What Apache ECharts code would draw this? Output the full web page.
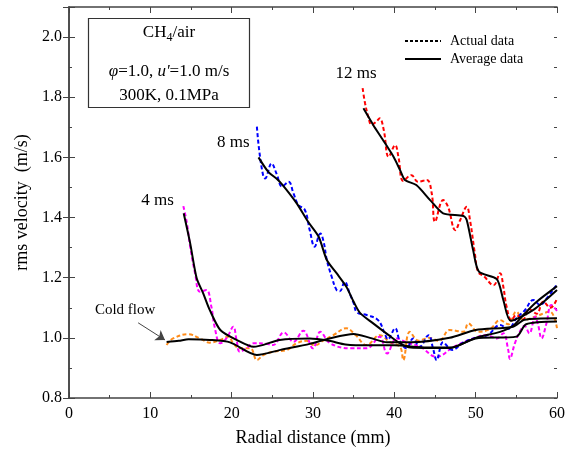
<!DOCTYPE html>
<html>
<head>
<meta charset="utf-8">
<script src="https://cdn.jsdelivr.net/npm/echarts@6/dist/echarts.min.js"></script>
<style>
  html, body { margin: 0; padding: 0; background: #fff; }
  #chart { width: 572px; height: 456px; }
</style>
</head>
<body>
<div id="chart"></div>
<script>
// x: radial distance (mm), y: rms velocity (m/s)
const coldActual = [[12.0,0.976],[12.8,0.998],[14.7,1.012],[16.1,0.998],[17.3,0.984],[18.6,0.993],[19.6,1.004],[20.2,0.982],[21.0,0.965],[22.3,0.965],[23.1,0.926],[23.9,0.943],[25.1,0.954],[26.8,0.96],[28.0,0.982],[29.2,0.99],[30.2,0.975],[31.2,0.99],[32.5,1.009],[34.1,1.032],[35.2,1.01],[36.6,0.976],[38.2,1.009],[39.5,0.985],[40.7,0.97],[41.1,0.926],[41.9,1.02],[43.0,0.99],[44.2,1.0],[45.5,0.99],[46.8,1.026],[48.5,1.02],[49.1,1.048],[50.3,1.02],[51.8,1.03],[53.0,1.059],[54.0,1.045],[55.0,1.087],[55.9,1.06],[57.3,1.07],[59.1,1.087],[60.0,1.032]]
const coldAvg = [[12.0,0.986],[13.5,0.99],[14.7,0.995],[17.3,0.993],[19.8,0.985],[23.1,0.943],[26.0,0.96],[29.6,0.98],[32.0,0.998],[35.0,1.013],[37.0,1.0],[39.1,0.985],[42.0,0.985],[46.8,1.0],[50.0,1.026],[54.6,1.037],[56.0,1.06],[60.0,1.065]]

const ms4Actual = [[14.06,1.438],[14.5,1.381],[14.9,1.303],[15.5,1.215],[16.1,1.153],[16.9,1.159],[17.5,1.104],[17.9,1.037],[18.6,0.982],[19.4,1.0],[20.2,1.037],[20.6,0.993],[21.0,0.954],[21.8,0.965],[22.7,0.982],[24.3,0.98],[25.1,0.976],[26.4,1.018],[27.6,0.987],[28.8,1.024],[30.0,0.965],[30.9,1.02],[32.1,0.982],[34.6,0.965],[36.6,0.965],[38.2,1.004],[39.1,0.948],[40.3,0.998],[41.5,0.985],[43.2,0.97],[45.2,0.937],[47.3,0.97],[49.7,0.998],[51.4,1.009],[52.6,0.998],[53.4,1.015],[54.0,0.96],[54.2,0.93],[54.8,0.98],[55.4,1.02],[56.0,1.04],[56.6,1.015],[57.3,1.07],[57.7,1.04],[58.1,0.998],[58.7,1.048],[59.3,1.109],[60.0,1.09]]
const ms4Avg = [[14.1,1.414],[14.9,1.314],[15.7,1.198],[16.5,1.148],[17.3,1.093],[18.6,1.026],[20.6,0.993],[22.7,0.97],[25.9,0.993],[29.6,0.998],[32.0,0.99],[34.0,0.978],[37.0,0.975],[40.0,0.975],[44.0,0.968],[47.0,0.968],[50.0,0.998],[55.0,1.004],[56.2,1.045],[60.0,1.054]]

const ms8Actual = [[23.1,1.702],[23.4,1.62],[23.9,1.536],[24.1,1.53],[24.9,1.58],[25.5,1.547],[26.2,1.503],[27.0,1.519],[27.6,1.48],[28.2,1.442],[29.0,1.425],[29.6,1.358],[30.2,1.303],[30.9,1.347],[31.3,1.32],[31.7,1.259],[32.3,1.203],[32.9,1.159],[33.3,1.155],[33.9,1.187],[34.5,1.148],[35.0,1.115],[35.4,1.085],[36.6,1.076],[38.0,1.059],[38.9,1.009],[39.2,0.995],[40.1,1.032],[40.7,0.987],[41.5,0.965],[42.3,0.998],[43.1,0.97],[44.2,1.009],[44.8,0.96],[45.2,0.926],[46.0,0.985],[47.1,0.96],[48.5,0.985],[50.0,1.0],[51.5,1.01],[53.0,1.043],[54.0,1.03],[55.0,1.065],[56.0,1.09],[57.1,1.126],[57.9,1.11],[58.9,1.137],[59.8,1.17],[60.0,1.175]]
const ms8Avg = [[23.3,1.60],[24.5,1.552],[25.7,1.525],[26.6,1.497],[28.0,1.447],[29.4,1.386],[30.7,1.336],[31.7,1.259],[32.9,1.215],[34.1,1.17],[35.0,1.12],[35.8,1.082],[37.4,1.048],[39.3,1.009],[40.7,0.982],[42.0,0.968],[46.8,0.966],[50.0,1.0],[53.0,1.02],[54.6,1.04],[56.0,1.08],[57.5,1.12],[60.0,1.172]]

const ms12Actual = [[36.1,1.83],[36.4,1.78],[36.8,1.735],[37.2,1.708],[37.8,1.719],[38.2,1.73],[38.7,1.691],[39.3,1.602],[40.1,1.641],[40.5,1.602],[41.1,1.522],[42.1,1.541],[42.9,1.519],[44.0,1.525],[44.6,1.48],[45.0,1.386],[46.0,1.458],[46.6,1.436],[47.5,1.358],[48.1,1.392],[48.9,1.436],[49.3,1.392],[49.9,1.281],[50.3,1.22],[51.0,1.205],[52.2,1.175],[53.0,1.215],[53.4,1.17],[53.8,1.104],[54.4,1.059],[55.0,1.076],[55.8,1.06],[56.6,1.095],[57.5,1.08],[58.3,1.12],[59.2,1.1],[60.0,1.13]]
const ms12Avg = [[36.2,1.763],[37.4,1.708],[38.6,1.658],[39.9,1.602],[40.7,1.558],[41.3,1.525],[42.7,1.508],[44.4,1.458],[46.0,1.414],[48.5,1.405],[48.9,1.392],[49.7,1.29],[50.4,1.22],[52.6,1.195],[53.4,1.126],[54.3,1.057],[57.1,1.093],[60.0,1.159]]

// text labels placed in data coordinates
const curveLabels = [
  { text: '4 ms', at: [10.9, 1.455] },
  { text: '8 ms', at: [20.2, 1.648] },
  { text: '12 ms', at: [35.3, 1.88] },
  { text: 'Cold flow', at: [6.9, 1.093] }
]
const arrowFrom = [8.5, 1.05]
const arrowTo = [11.8, 0.993]

const serif = '"Liberation Serif", "Times New Roman", serif'
const axisColor = '#444'

const chart = echarts.init(document.getElementById('chart'))

const dashed = (name, data, color) => ({
  name: name,
  type: 'line',
  data: data,
  smooth: 0.4,
  symbol: 'none',
  silent: true,
  xAxisIndex: 0,
  yAxisIndex: 0,
  lineStyle: { color: color, width: 2, type: [4, 2.5] },
  z: 2
})
const solid = (name, data) => ({
  name: name,
  type: 'line',
  data: data,
  smooth: 0.25,
  symbol: 'none',
  silent: true,
  xAxisIndex: 0,
  yAxisIndex: 0,
  lineStyle: { color: '#000', width: 2 },
  z: 3
})

const coldAvgSeries = solid('coldAvg', coldAvg)
coldAvgSeries.markLine = {
  silent: true,
  symbol: ['none', 'arrow'],
  symbolSize: 9,
  label: { show: false },
  lineStyle: { color: '#444', width: 1, type: 'solid' },
  animation: false,
  data: [[{ coord: arrowFrom }, { coord: arrowTo }]]
}

const baseAxis = {
  min: 0, max: 60, interval: 10,
  axisLine: { show: true, lineStyle: { color: axisColor, width: 1.5 } },
  splitLine: { show: false }
}

const option = {
  animation: false,
  grid: { left: 69, right: 15, top: 7, bottom: 58 },
  legend: {
    data: ['Actual data', 'Average data'],
    orient: 'vertical',
    left: 399,
    top: 29,
    itemWidth: 36,
    itemHeight: 12,
    itemGap: 4,
    itemStyle: { opacity: 0 },
    textStyle: { fontFamily: serif, fontSize: 14, color: '#000', padding: [0, 0, 0, 4] }
  },
  xAxis: [
    Object.assign({}, baseAxis, {
      type: 'value',
      position: 'bottom',
      axisTick: { inside: true, length: 6, lineStyle: { color: axisColor } },
      minorTick: { show: true, splitNumber: 2, length: 3, lineStyle: { color: axisColor } },
      axisLabel: { fontFamily: serif, fontSize: 16, color: '#000', margin: 8 },
      name: 'Radial distance (mm)',
      nameLocation: 'middle',
      nameGap: 31,
      nameTextStyle: { fontFamily: serif, fontSize: 18, color: '#000' }
    }),
    Object.assign({}, baseAxis, {
      type: 'value',
      position: 'top',
      axisTick: { inside: true, length: 6, lineStyle: { color: axisColor } },
      minorTick: { show: true, splitNumber: 2, length: 3, lineStyle: { color: axisColor } },
      axisLabel: { show: false }
    })
  ],
  yAxis: [
    {
      type: 'value', position: 'left',
      min: 0.8, max: 2.1, interval: 0.2,
      axisLine: { show: true, lineStyle: { color: axisColor, width: 1.5 } },
      axisTick: { inside: true, length: 6, lineStyle: { color: axisColor } },
      splitLine: { show: false },
      axisLabel: {
        fontFamily: serif, fontSize: 16, color: '#000', margin: 7,
        formatter: v => (Math.abs(v * 5 - Math.round(v * 5)) < 1e-6 ? v.toFixed(1) : '')
      },
      name: 'rms velocity  (m/s)',
      nameLocation: 'middle',
      nameGap: 27,
      nameTextStyle: { fontFamily: serif, fontSize: 18, color: '#000' }
    },
    {
      type: 'value', position: 'right',
      min: 0.8, max: 2.1, interval: 0.2,
      axisLine: { show: true, lineStyle: { color: axisColor, width: 1.5 } },
      axisTick: { inside: true, length: 6, lineStyle: { color: axisColor } },
      splitLine: { show: false },
      axisLabel: { show: false }
    },
    {
      type: 'value', position: 'left',
      min: 0.8, max: 2.1, interval: 0.1,
      axisLine: { show: false },
      axisTick: { inside: true, length: 3, lineStyle: { color: axisColor } },
      splitLine: { show: false },
      axisLabel: { show: false }
    },
    {
      type: 'value', position: 'right',
      min: 0.8, max: 2.1, interval: 0.1,
      axisLine: { show: false },
      axisTick: { inside: true, length: 3, lineStyle: { color: axisColor } },
      splitLine: { show: false },
      axisLabel: { show: false }
    }
  ],
  series: [
    dashed('coldActual', coldActual, '#ff8c1a'),
    dashed('ms4Actual', ms4Actual, '#ff00ff'),
    dashed('ms8Actual', ms8Actual, '#0000ff'),
    dashed('ms12Actual', ms12Actual, '#ff0000'),
    coldAvgSeries,
    solid('ms4Avg', ms4Avg),
    solid('ms8Avg', ms8Avg),
    solid('ms12Avg', ms12Avg),
    { name: 'Actual data', type: 'line', data: [], symbol: 'none', itemStyle: { color: '#000' }, lineStyle: { color: '#000', width: 1.5, type: [3, 2] } },
    { name: 'Average data', type: 'line', data: [], symbol: 'none', itemStyle: { color: '#000' }, lineStyle: { color: '#000', width: 2 } }
  ]
}

chart.setOption(option)

// condition box and curve labels
const graphics = [
  {
    type: 'rect',
    shape: { x: 88.5, y: 18.5, width: 161, height: 89 },
    style: { fill: '#fff', stroke: '#333', lineWidth: 1.2 },
    z: 10
  },
  {
    type: 'text', x: 169, y: 33, z: 11,
    style: {
      text: '{n|CH}{s|4}{n|/air}',
      align: 'center', verticalAlign: 'middle',
      rich: {
        n: { fontFamily: serif, fontSize: 17, fill: '#000' },
        s: { fontFamily: serif, fontSize: 12, fill: '#000', padding: [10, 0, 0, 0] }
      }
    }
  },
  {
    type: 'text', x: 169, y: 72, z: 11,
    style: {
      text: '{i|φ}{n|=1.0, }{i|u\'}{n|=1.0 m/s}',
      align: 'center', verticalAlign: 'middle',
      rich: {
        n: { fontFamily: serif, fontSize: 17, fill: '#000' },
        i: { fontFamily: serif, fontSize: 17, fontStyle: 'italic', fill: '#000' }
      }
    }
  },
  {
    type: 'text', x: 169, y: 96, z: 11,
    style: { text: '300K, 0.1MPa', align: 'center', verticalAlign: 'middle', fontFamily: serif, fontSize: 17, fill: '#000' }
  }
]
curveLabels.forEach(l => {
  const p = chart.convertToPixel({ xAxisIndex: 0, yAxisIndex: 0 }, l.at)
  graphics.push({
    type: 'text', x: p[0], y: p[1], z: 11,
    style: {
      text: l.text, align: 'center', verticalAlign: 'middle',
      fontFamily: serif, fontSize: l.text === 'Cold flow' ? 15 : 17, fill: '#000'
    }
  })
})
chart.setOption({ graphic: graphics })

window.addEventListener('resize', () => chart.resize())
</script>
</body>
</html>
